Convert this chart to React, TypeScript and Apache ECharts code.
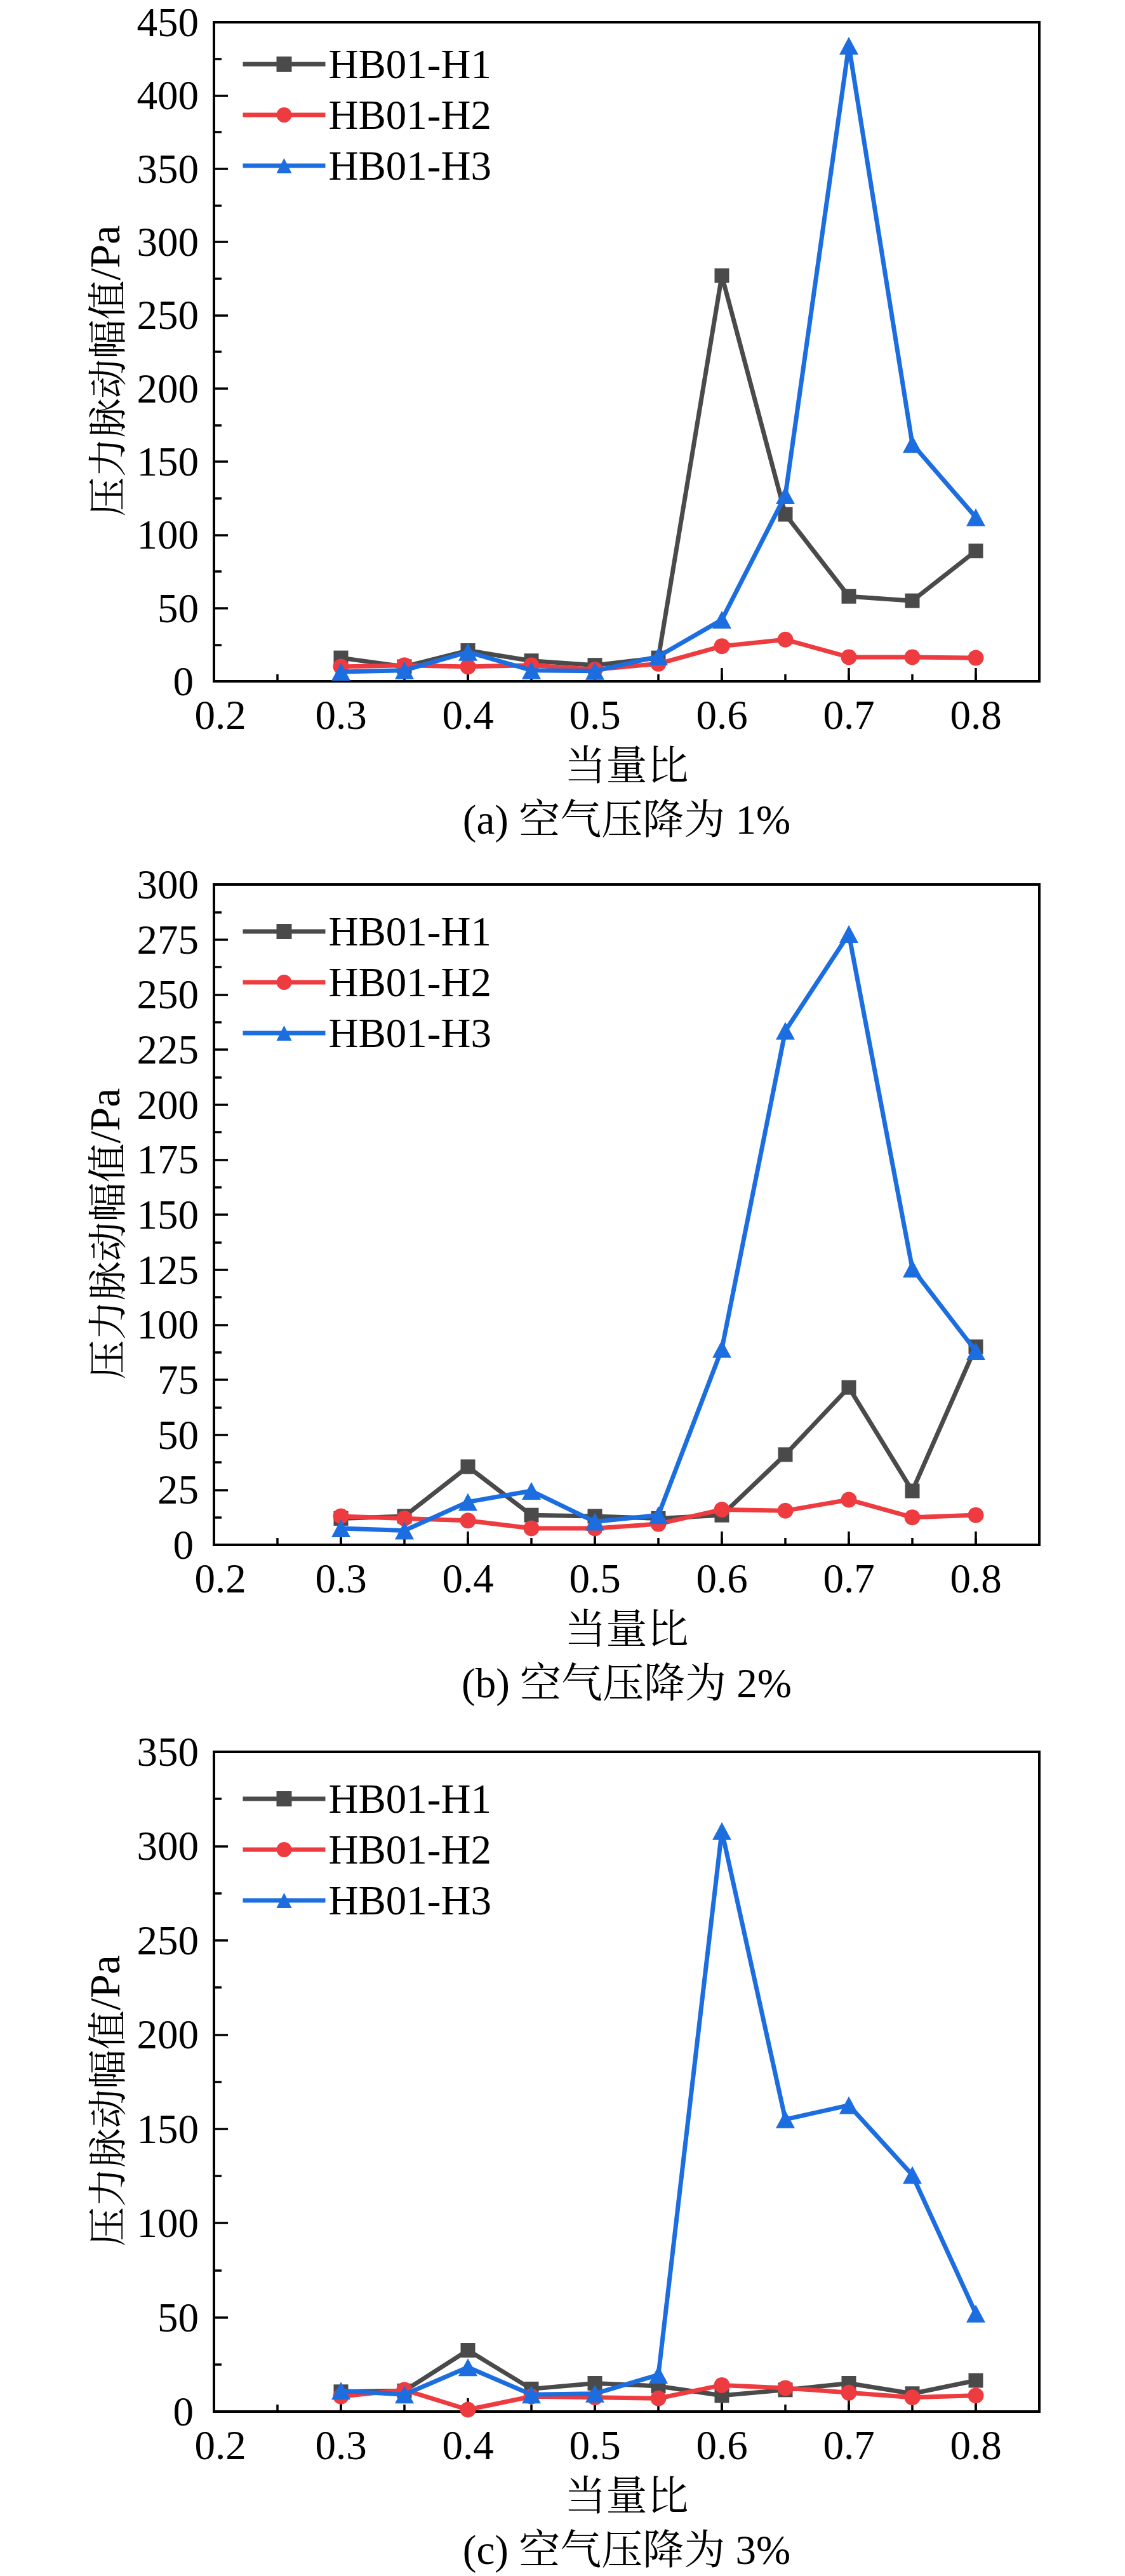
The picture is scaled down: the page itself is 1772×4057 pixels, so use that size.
import React, { useEffect, useRef } from "react";
import * as echarts from "echarts";

const phi = [0.3, 0.35, 0.4, 0.45, 0.5, 0.55, 0.6, 0.65, 0.7, 0.75, 0.8];
const seriesNames = ["HB01-H1", "HB01-H2", "HB01-H3"];

// (a) 空气压降为 1%
const aH1 = [16, 10, 21, 14, 11, 16, 277, 114, 58, 55, 89];
const aH2 = [10, 11, 10, 11, 8, 12, 24, 28.5, 16.5, 16.5, 16];
const aH3 = [6.5, 7.5, 20, 7.5, 7, 17, 42, 127, 434, 162, 112];
// (b) 空气压降为 2%
const bH1 = [12, 13, 35.5, 13.5, 13, 12, 13.5, 41, 71.5, 24.5, 90];
const bH2 = [13, 12, 11, 7.5, 7.5, 9.5, 16, 15.5, 20.5, 12.5, 13.5];
const bH3 = [7.5, 6.5, 19.5, 24.5, 10.5, 13.5, 89, 233.5, 277.5, 125.5, 88];
// (c) 空气压降为 3%
const cH1 = [10.5, 11, 32.5, 12, 15, 13.5, 8.5, 11.5, 15, 9.5, 16.5];
const cH2 = [8, 11.5, 1, 8, 7.5, 7, 14, 12.5, 10, 7.5, 8.5];
const cH3 = [11, 9, 23.5, 9, 9.5, 19.5, 308, 155, 162.5, 125.5, 52];

const yMaxes = [450, 300, 350];
const yIntervals = [50, 25, 50];
const captions = ["(a) 空气压降为 1%", "(b) 空气压降为 2%", "(c) 空气压降为 3%"];
const xTitle = "当量比";
const yTitleCJK = "压力脉动幅值";
const yTitleUnit = "/Pa";

const panelData = [
  [aH1, aH2, aH3],
  [bH1, bH2, bH3],
  [cH1, cH2, cH3],
];

const colors = ["#4a4a4a", "#ee3b3f", "#1c6ee0"];
const symbols = ["rect", "circle", "triangle"];
const symbolSizes: any[] = [23, 25, [30, 28]];

const FONT = '"Liberation Serif", "Times New Roman", "Noto Serif CJK SC", "Noto Sans CJK SC", serif';
const CJK = '"Noto Serif CJK SC", "Noto Sans CJK SC", sans-serif';
const FS = 65;

const W = 1772;
const gridTops = [35, 1393, 2759];
const gridHeights = [1038, 1040, 1039];
const gridLeft = 337;
const gridRight = 135;
const legendTops = [63, 1429, 2795];

export default function App() {
  const ref = useRef<HTMLDivElement>(null);
  useEffect(() => {
    document.body.style.margin = "0";
    if (!ref.current) return;
    const chart = echarts.init(ref.current, undefined, { renderer: "svg" });

    const grids: any[] = [];
    const xAxes: any[] = [];
    const yAxes: any[] = [];
    const series: any[] = [];
    const legends: any[] = [];
    const graphics: any[] = [];
    const centerX = gridLeft + (W - gridLeft - gridRight) / 2;
    const labelFont = { fontFamily: FONT, fontSize: FS, color: "#000" };

    for (let p = 0; p < 3; p++) {
      grids.push({
        left: gridLeft,
        right: gridRight,
        top: gridTops[p],
        height: gridHeights[p],
        show: true,
        borderColor: "#000",
        borderWidth: 4,
        backgroundColor: "transparent",
      });
      xAxes.push({
        type: "value",
        gridIndex: p,
        min: 0.2,
        max: 0.85,
        interval: 0.1,
        name: xTitle,
        nameLocation: "middle",
        nameGap: 100,
        nameTextStyle: { fontFamily: FONT, fontSize: FS, color: "#000" },
        axisLine: { show: true, onZero: false, lineStyle: { color: "#000", width: 4 } },
        axisTick: { show: true, inside: true, length: 21, lineStyle: { color: "#000", width: 3.5 } },
        axisLabel: {
          show: true,
          margin: 28,
          lineHeight: 50,
          ...labelFont,
          formatter: (v: number) => (v > 0.81 ? "" : v < 0.21 ? `{s|${v.toFixed(1)}}` : v.toFixed(1)),
          rich: { s: { ...labelFont, lineHeight: 50, padding: [0, 0, 0, 20] } },
        },
        splitLine: { show: false },
      });
      yAxes.push({
        type: "value",
        gridIndex: p,
        min: 0,
        max: yMaxes[p],
        interval: yIntervals[p],
        axisLine: { show: true, onZero: false, lineStyle: { color: "#000", width: 4 } },
        axisTick: { show: true, inside: true, length: 22, lineStyle: { color: "#000", width: 3.5 } },
        minorTick: { show: true, splitNumber: 2, length: 12, lineStyle: { color: "#000", width: 3.5 } },
        axisLabel: {
          show: true,
          margin: 24,
          lineHeight: 46,
          ...labelFont,
          formatter: (v: number) => (v === 0 ? `{z|${v}}` : String(v)),
          rich: { z: { ...labelFont, lineHeight: 46, padding: [0, 8, 0, 0] } },
        },
        splitLine: { show: false },
        minorSplitLine: { show: false },
      });
      legends.push({
        orient: "vertical",
        left: 374,
        top: legendTops[p],
        itemWidth: 130,
        itemHeight: 30,
        itemGap: 14,
        data: seriesNames,
        lineStyle: { width: 7 },
        textStyle: { fontFamily: FONT, fontSize: FS, color: "#000", lineHeight: 66 },
        selectedMode: false,
      });
      for (let s = 0; s < 3; s++) {
        const vals = panelData[p][s];
        series.push({
          type: "line",
          name: seriesNames[s],
          xAxisIndex: p,
          yAxisIndex: p,
          data: phi.map((x, i) => [x, vals[i]]),
          symbol: symbols[s],
          symbolSize: symbolSizes[s],
          showSymbol: true,
          color: colors[s],
          lineStyle: { color: colors[s], width: 7 },
          itemStyle: { color: colors[s] },
          z: 2 + s,
        });
      }
      // caption
      graphics.push({
        type: "text",
        x: centerX,
        y: gridTops[p] + gridHeights[p] + 218,
        style: {
          text: captions[p],
          font: `${FS}px ${FONT}`,
          fill: "#000",
          textAlign: "center",
          textVerticalAlign: "middle",
        },
      });
      // y-axis title (rotated)
      graphics.push({
        type: "text",
        x: 165,
        y: gridTops[p] + gridHeights[p] / 2 + 30,
        rotation: Math.PI / 2,
        style: {
          text: `{c|${yTitleCJK}}{u|${yTitleUnit}}`,
          fill: "#000",
          textAlign: "center",
          textVerticalAlign: "middle",
          rich: {
            c: { fontFamily: CJK, fontSize: 62, fill: "#000" },
            u: { fontFamily: FONT, fontSize: 68, fill: "#000" },
          },
        },
      });
    }
    // overlay minor x ticks (every 0.05)
    for (let p = 0; p < 3; p++) {
      xAxes.push({
        type: "value",
        gridIndex: p,
        min: 0.2,
        max: 0.85,
        interval: 0.05,
        position: "bottom",
        axisLine: { show: false, onZero: false },
        axisTick: { show: true, inside: true, length: 11, lineStyle: { color: "#000", width: 3.5 } },
        axisLabel: { show: false },
        splitLine: { show: false },
      });
    }

    chart.setOption({
      animation: false,
      backgroundColor: "#fff",
      grid: grids,
      xAxis: xAxes,
      yAxis: yAxes,
      legend: legends,
      series,
      graphic: graphics,
    });
    return () => chart.dispose();
  }, []);
  return <div ref={ref} style={{ width: W, height: 4057 }} />;
}
